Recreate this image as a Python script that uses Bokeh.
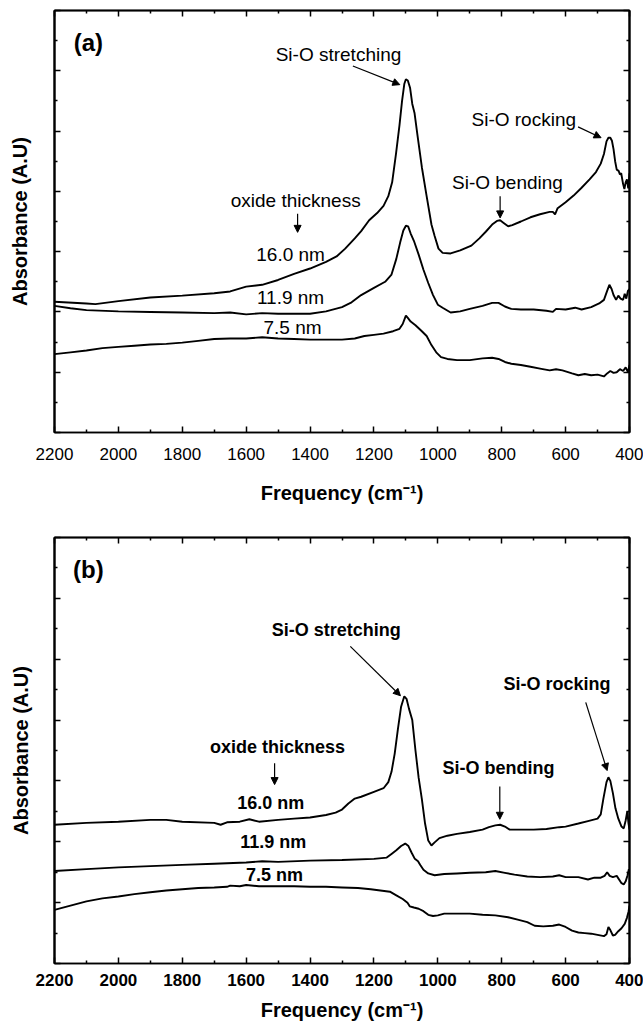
from bokeh.plotting import figure
from bokeh.models import (Range1d, LinearAxis, FixedTicker, Arrow, NormalHead, ColumnDataSource)
from bokeh.layouts import column
from bokeh.core.properties import value
from bokeh.embed import file_html
from bokeh.resources import INLINE

# ---------------- data: panel (a) ----------------
a16_x = [2200, 2100, 2072, 2000, 1900, 1800, 1700, 1650, 1600, 1550, 1500, 1450, 1400, 1350, 1317, 1290, 1260,
         1240, 1215, 1190, 1170, 1155, 1143, 1131, 1120, 1112, 1105, 1100, 1094, 1087, 1080, 1073, 1064, 1050,
         1036, 1020, 1010, 998, 985, 960, 930, 895, 870, 850, 830, 815, 805, 795, 780, 767, 740, 710, 680, 650,
         640, 633, 625, 600, 575, 550, 525, 505, 490, 480, 472, 466, 460, 455, 450, 445, 440, 434, 430, 426,
         420, 416, 412, 408, 404, 400]
a16_y = [2.17, 2.14, 2.13, 2.18, 2.24, 2.27, 2.31, 2.34, 2.42, 2.45, 2.53, 2.63, 2.72, 2.83, 2.92, 3.05, 3.22,
         3.34, 3.52, 3.64, 3.76, 3.92, 4.15, 4.62, 5.10, 5.50, 5.78, 5.86, 5.84, 5.72, 5.45, 5.30, 4.94, 4.40,
         3.95, 3.45, 3.26, 3.05, 2.98, 2.97, 3.02, 3.10, 3.22, 3.33, 3.45, 3.51, 3.52, 3.48, 3.42, 3.44, 3.50,
         3.57, 3.62, 3.66, 3.66, 3.62, 3.72, 3.82, 3.93, 4.06, 4.20, 4.32, 4.46, 4.62, 4.83, 4.89, 4.89, 4.84,
         4.70, 4.50, 4.36, 4.34, 4.28, 4.30, 4.12, 4.04, 4.15, 4.20, 4.05, 4.30]

a119_x = [2200, 2150, 2100, 2000, 1900, 1800, 1700, 1650, 1600, 1550, 1500, 1400, 1350, 1300, 1270, 1240, 1200,
          1165, 1145, 1130, 1118, 1108, 1100, 1093, 1085, 1075, 1060, 1045, 1030, 1015, 1000, 985, 960, 930,
          900, 860, 830, 810, 790, 770, 740, 700, 660, 640, 630, 600, 570, 550, 520, 495, 480, 470, 463, 456,
          450, 442, 435, 428, 420, 415, 410, 405, 400]
a119_y = [2.10, 2.06, 2.03, 2.01, 2.00, 1.99, 1.98, 1.99, 1.96, 1.98, 1.97, 1.97, 2.01, 2.08, 2.16, 2.28, 2.40,
          2.50, 2.62, 2.88, 3.15, 3.35, 3.43, 3.42, 3.30, 3.18, 2.95, 2.70, 2.48, 2.28, 2.12, 2.07, 1.99, 2.01,
          2.05, 2.10, 2.15, 2.15, 2.09, 2.05, 2.04, 2.04, 2.02, 2.00, 2.05, 2.04, 2.07, 2.04, 2.08, 2.14, 2.20,
          2.35, 2.45, 2.38, 2.28, 2.20, 2.27, 2.22, 2.20, 2.30, 2.22, 2.35, 2.38]

a75_x = [2200, 2150, 2100, 2050, 2000, 1950, 1900, 1850, 1800, 1750, 1700, 1650, 1600, 1550, 1500, 1450, 1400,
         1350, 1300, 1260, 1230, 1200, 1170, 1140, 1120, 1110, 1100, 1094, 1085, 1070, 1050, 1035, 1020, 1005,
         990, 970, 940, 900, 860, 830, 810, 790, 770, 740, 710, 680, 650, 630, 610, 580, 560, 540, 520, 500,
         480, 470, 460, 450, 440, 430, 420, 412, 405, 400]
a75_y = [1.30, 1.33, 1.36, 1.40, 1.42, 1.44, 1.46, 1.47, 1.49, 1.52, 1.55, 1.56, 1.56, 1.58, 1.56, 1.55, 1.54,
         1.54, 1.54, 1.56, 1.60, 1.62, 1.64, 1.68, 1.72, 1.80, 1.94, 1.90, 1.84, 1.78, 1.68, 1.60, 1.45, 1.33,
         1.25, 1.22, 1.20, 1.20, 1.23, 1.24, 1.22, 1.17, 1.14, 1.12, 1.09, 1.06, 1.03, 1.05, 1.03, 0.98, 0.95,
         0.97, 0.95, 0.96, 0.93, 0.98, 1.02, 0.99, 1.00, 1.05, 1.02, 1.08, 1.00, 1.12]

# ---------------- data: panel (b) ----------------
b16_x = [2200, 2100, 2000, 1900, 1850, 1800, 1700, 1680, 1660, 1620, 1590, 1560, 1500, 1450, 1400, 1350, 1320,
         1300, 1280, 1260, 1240, 1200, 1170, 1155, 1145, 1135, 1125, 1115, 1105, 1098, 1090, 1080, 1070, 1060,
         1050, 1040, 1030, 1020, 1010, 995, 970, 940, 900, 860, 840, 820, 805, 790, 775, 750, 700, 660, 620,
         600, 560, 530, 500, 490, 482, 472, 466, 460, 452, 444, 435, 425, 418, 412, 407, 403, 400]
b16_y = [2.28, 2.31, 2.33, 2.36, 2.36, 2.33, 2.31, 2.28, 2.32, 2.33, 2.37, 2.33, 2.36, 2.38, 2.40, 2.44, 2.48,
         2.53, 2.63, 2.71, 2.74, 2.82, 2.88, 2.98, 3.15, 3.45, 3.85, 4.22, 4.39, 4.35, 4.18, 4.00, 3.50, 3.05,
         2.70, 2.30, 2.02, 1.94, 1.99, 2.06, 2.10, 2.13, 2.16, 2.20, 2.24, 2.27, 2.28, 2.25, 2.20, 2.20, 2.20,
         2.21, 2.24, 2.25, 2.30, 2.34, 2.38, 2.45, 2.70, 2.98, 3.06, 3.00, 2.80, 2.55, 2.38, 2.25, 2.22, 2.35,
         2.50, 2.30, 2.20]

b119_x = [2200, 2100, 2000, 1900, 1800, 1700, 1600, 1550, 1500, 1400, 1300, 1200, 1160, 1145, 1130, 1115, 1102,
          1092, 1082, 1072, 1062, 1055, 1045, 1030, 1010, 980, 940, 900, 850, 820, 790, 760, 720, 680, 640, 620,
          600, 560, 530, 510, 490, 478, 470, 462, 452, 440, 425, 418, 412, 406, 402, 400]
b119_y = [1.52, 1.55, 1.58, 1.60, 1.62, 1.64, 1.66, 1.68, 1.67, 1.69, 1.70, 1.72, 1.74, 1.80, 1.86, 1.93, 1.97,
          1.93, 1.82, 1.72, 1.68, 1.62, 1.54, 1.48, 1.45, 1.47, 1.48, 1.49, 1.50, 1.52, 1.49, 1.46, 1.43, 1.42,
          1.43, 1.45, 1.42, 1.42, 1.38, 1.41, 1.41, 1.44, 1.50, 1.44, 1.42, 1.44, 1.32, 1.30, 1.35, 1.45, 1.55,
          1.50]

b75_x = [2200, 2150, 2100, 2050, 2000, 1950, 1900, 1850, 1800, 1750, 1700, 1660, 1650, 1620, 1600, 1560, 1500,
         1450, 1400, 1350, 1300, 1250, 1210, 1180, 1150, 1130, 1110, 1095, 1088, 1075, 1060, 1045, 1030, 1015,
         1000, 980, 950, 900, 860, 820, 780, 750, 720, 697, 670, 640, 620, 600, 580, 560, 540, 520, 500, 480,
         472, 466, 460, 452, 445, 435, 425, 415, 408, 403, 400]
b75_y = [0.88, 0.95, 1.02, 1.07, 1.10, 1.14, 1.17, 1.20, 1.22, 1.24, 1.25, 1.26, 1.28, 1.27, 1.29, 1.27, 1.27,
         1.27, 1.26, 1.26, 1.25, 1.24, 1.22, 1.20, 1.18, 1.12, 1.06, 1.00, 0.94, 0.92, 0.90, 0.86, 0.80, 0.78,
         0.79, 0.82, 0.82, 0.82, 0.80, 0.79, 0.76, 0.72, 0.68, 0.62, 0.61, 0.62, 0.64, 0.60, 0.54, 0.51, 0.50,
         0.49, 0.47, 0.45, 0.48, 0.60, 0.55, 0.46, 0.47, 0.53, 0.58, 0.65, 0.75, 0.85, 0.95]

# ---------------- ticks ----------------
x_major_ticks = [2200, 2000, 1800, 1600, 1400, 1200, 1000, 800, 600, 400]
x_minor_ticks = [2100, 1900, 1700, 1500, 1300, 1100, 900, 700, 500]
y_major_ticks = [0, 1, 2, 3, 4, 5, 6, 7]
y_minor_ticks = [0.5, 1.5, 2.5, 3.5, 4.5, 5.5, 6.5]

# ---------------- labels ----------------
panel_tags = ["(a)", "(b)"]
ann_text = ["Si-O stretching", "Si-O rocking", "Si-O bending", "oxide thickness", "16.0 nm", "11.9 nm", "7.5 nm"]
a_ann_x = [1311, 731, 782, 1445, 1461, 1461, 1455]
a_ann_y = [6.27, 5.19, 4.14, 3.85, 2.96, 2.24, 1.74]
b_ann_x = [1318, 627, 810, 1502, 1523, 1515, 1511]
b_ann_y = [5.48, 4.59, 3.22, 3.56, 2.63, 2.00, 1.46]
a_arrows = [(1266, 6.08, 1119, 5.77), (561, 5.07, 489, 4.89), (805, 3.92, 805, 3.56), (1439, 3.63, 1439, 3.32)]
b_arrows = [(1274, 5.21, 1117, 4.40), (537, 4.29, 470, 3.17), (806, 2.91, 806, 2.37), (1511, 3.29, 1511, 2.94)]

x_label = "Frequency (cm\u207b\u00b9)"
y_label = "Absorbance (A.U)"
FONT = "Liberation Sans"


def base_axis(ax, tick_len):
    ax.axis_line_width = 1.7
    ax.axis_line_color = "black"
    ax.major_tick_in = 6
    ax.major_tick_out = 0
    ax.minor_tick_in = tick_len
    ax.minor_tick_out = 0
    ax.major_tick_line_width = 1.5
    ax.minor_tick_line_width = 1.5
    ax.major_tick_line_color = "black"
    ax.minor_tick_line_color = "black"
    ax.major_label_standoff = 0


def tick_only_axis(ax, positions, tick_len):
    ax.ticker = FixedTicker(ticks=[], minor_ticks=positions)
    base_axis(ax, tick_len)


def make_panel(h, top, bottom, left, right, curves, tag, ann_x, ann_y, arrows, bold, tick_size, ann_size,
               tick_standoff, xl_standoff, yl_standoff):
    p = figure(width=643, height=h, output_backend="svg", toolbar_location=None,
               x_range=Range1d(2200, 400), y_range=Range1d(0, 7),
               min_border_top=top, min_border_bottom=bottom, min_border_left=left, min_border_right=right)
    p.xgrid.visible = False
    p.ygrid.visible = False
    p.outline_line_color = "black"
    p.outline_line_width = 1.7
    p.background_fill_color = "white"
    p.border_fill_color = "white"

    # bottom axis: labelled
    xa = p.xaxis[0]
    xa.ticker = FixedTicker(ticks=x_major_ticks, minor_ticks=x_minor_ticks)
    base_axis(xa, 3)
    xa.major_label_text_font = FONT
    xa.major_label_text_color = "black"
    xa.major_label_text_font_style = "bold" if bold else "normal"
    xa.major_label_text_font_size = tick_size
    xa.major_label_standoff = tick_standoff
    xa.axis_label = x_label
    xa.axis_label_text_font = FONT
    xa.axis_label_text_font_style = "bold"
    xa.axis_label_text_font_size = "20px"
    xa.axis_label_text_color = "black"
    xa.axis_label_standoff = xl_standoff

    # left: inner axis with long ticks, outer axis with short ticks + title
    ya = p.yaxis[0]
    tick_only_axis(ya, y_major_ticks, 6)
    ya2 = LinearAxis()
    tick_only_axis(ya2, y_minor_ticks, 3)
    ya2.axis_label = y_label
    ya2.axis_label_text_font = FONT
    ya2.axis_label_text_font_style = "bold"
    ya2.axis_label_text_font_size = "20px"
    ya2.axis_label_text_color = "black"
    ya2.axis_label_standoff = yl_standoff
    p.add_layout(ya2, "left")

    # mirrored ticks on top and right
    t1 = LinearAxis()
    tick_only_axis(t1, x_major_ticks, 6)
    t2 = LinearAxis()
    tick_only_axis(t2, x_minor_ticks, 3)
    r1 = LinearAxis()
    tick_only_axis(r1, y_major_ticks, 6)
    r2 = LinearAxis()
    tick_only_axis(r2, y_minor_ticks, 3)
    p.add_layout(t1, "above")
    p.add_layout(t2, "above")
    p.add_layout(r1, "right")
    p.add_layout(r2, "right")

    for cx, cy in curves:
        p.line(cx, cy, line_color="black", line_width=1.9)

    weight = "bold" if bold else "normal"
    src = ColumnDataSource(dict(x=ann_x, y=ann_y, t=ann_text))
    p.text(x="x", y="y", text="t", source=src, text_font=value(FONT), text_font_size=value(ann_size),
           text_font_style=weight, text_align="center", text_baseline="middle", text_color="black")
    p.text(x=[2094], y=[6.47], text=[tag], text_font=value(FONT), text_font_size=value("24px"),
           text_font_style="bold", text_align="center", text_baseline="middle", text_color="black")

    for (x0, y0, x1, y1) in arrows:
        p.add_layout(Arrow(end=NormalHead(size=7, fill_color="black", line_color="black", line_width=1),
                           x_start=x0, y_start=y0, x_end=x1, y_end=y1,
                           line_color="black", line_width=1.2))
    return p


pa = make_panel(512, 10, 80, 54, 14, [(a16_x, a16_y), (a119_x, a119_y), (a75_x, a75_y)], panel_tags[0],
                a_ann_x, a_ann_y, a_arrows, False, "17px", "19px", 15, 19, 24)
pb = make_panel(511, 25, 40, 52, 14, [(b16_x, b16_y), (b119_x, b119_y), (b75_x, b75_y)], panel_tags[1],
                b_ann_x, b_ann_y, b_arrows, True, "17px", "18px", 10, 10, 23)

layout = column(pa, pb, spacing=0)
open("out.html", "w").write(file_html(layout, INLINE))
